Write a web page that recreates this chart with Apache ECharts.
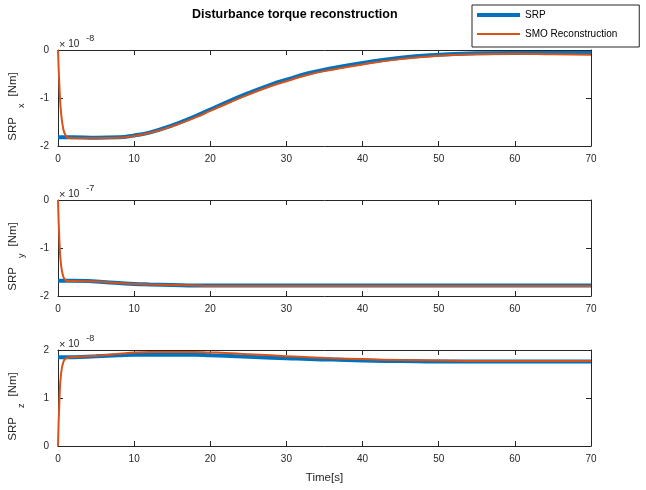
<!DOCTYPE html>
<html>
<head>
<meta charset="utf-8">
<script src="https://cdn.jsdelivr.net/npm/echarts@6/dist/echarts.min.js"></script>
<style>
  html, body { margin: 0; padding: 0; background: #fff; }
  #main { width: 646px; height: 490px; }
</style>
</head>
<body>
<div id="main"></div>
<script>
// time samples (s)
var tSrp = [0, 2, 5, 8, 10, 12, 15, 18, 20, 22, 25, 28, 30, 33, 36, 40, 45, 50, 55, 60, 65, 70];
var tSmo = [0, 0.2, 0.4, 0.7, 1, 1.3, 2, 5, 8, 10, 12, 15, 18, 20, 22, 25, 28, 30, 33, 36, 40, 45, 50, 55, 60, 65, 70];

// SRP x  (x 1e-8)
var srpX = [-1.82, -1.82, -1.83, -1.82, -1.78, -1.72, -1.57, -1.38, -1.24, -1.1, -0.9, -0.72, -0.62, -0.48, -0.38, -0.27, -0.16, -0.1, -0.07, -0.06, -0.06, -0.06];
var smoX = [0, -0.8, -1.3, -1.65, -1.78, -1.83, -1.84, -1.84, -1.83, -1.79, -1.73, -1.59, -1.41, -1.27, -1.13, -0.93, -0.75, -0.65, -0.51, -0.41, -0.3, -0.19, -0.12, -0.09, -0.08, -0.09, -0.1];
// SRP y  (x 1e-7)
var srpY = [-1.68, -1.68, -1.7, -1.73, -1.75, -1.76, -1.77, -1.78, -1.78, -1.78, -1.78, -1.78, -1.78, -1.78, -1.78, -1.78, -1.78, -1.78, -1.78, -1.78, -1.78, -1.78];
var smoY = [0, -0.9, -1.35, -1.6, -1.67, -1.69, -1.69, -1.7, -1.73, -1.75, -1.76, -1.77, -1.78, -1.79, -1.79, -1.79, -1.79, -1.79, -1.79, -1.79, -1.79, -1.79, -1.79, -1.79, -1.79, -1.79, -1.79];
// SRP z  (x 1e-8)
var srpZ = [1.85, 1.85, 1.87, 1.89, 1.9, 1.9, 1.9, 1.9, 1.89, 1.88, 1.86, 1.84, 1.83, 1.81, 1.8, 1.78, 1.77, 1.76, 1.76, 1.76, 1.76, 1.76];
var smoZ = [0, 1.0, 1.5, 1.75, 1.82, 1.84, 1.85, 1.88, 1.92, 1.95, 1.96, 1.96, 1.96, 1.95, 1.94, 1.91, 1.89, 1.87, 1.85, 1.83, 1.81, 1.79, 1.78, 1.77, 1.77, 1.77, 1.77];

var components = ['x', 'y', 'z'];
var exponents = ['-8', '-7', '-8'];
var yMins = [-2, -2, 0];
var yMaxs = [0, 0, 2];

var srpSets = [srpX, srpY, srpZ];
var smoSets = [smoX, smoY, smoZ];

var FONT = 'Liberation Sans';
var TXT = '#262626';
var tops = [50, 200, 350];

function pairs(t, v) {
  return t.map(function (x, i) { return [x, v[i]]; });
}

var grid = [], xAxis = [], yAxis = [], series = [], graphic = [];

tops.forEach(function (top, g) {
  grid.push({ left: 58, right: 55, top: top, height: 96, outerBoundsMode: 'none' });

  var xBase = {
    gridIndex: g, type: 'value', min: 0, max: 70, interval: 10,
    axisLine: { show: true, onZero: false, lineStyle: { color: TXT, width: 1 } },
    axisTick: { show: true, inside: true, length: 5, lineStyle: { color: TXT } },
    splitLine: { show: false }
  };
  xAxis.push(Object.assign({}, xBase, {
    position: 'bottom',
    axisLabel: { color: TXT, fontFamily: FONT, fontSize: 10, margin: 8 },
    name: g === 2 ? 'Time[s]' : '',
    nameLocation: 'middle', nameGap: 26,
    nameTextStyle: { color: TXT, fontFamily: FONT, fontSize: 11.5 }
  }));
  xAxis.push(Object.assign({}, xBase, { position: 'top', axisLabel: { show: false } }));

  var yBase = {
    gridIndex: g, type: 'value', min: yMins[g], max: yMaxs[g], interval: 1,
    axisLine: { show: true, onZero: false, lineStyle: { color: TXT, width: 1 } },
    axisTick: { show: true, inside: true, length: 5, lineStyle: { color: TXT } },
    splitLine: { show: false }
  };
  yAxis.push(Object.assign({}, yBase, {
    position: 'left',
    axisLabel: { color: TXT, fontFamily: FONT, fontSize: 10, margin: 9 },
    name: '{a|SRP}{s|' + components[g] + '}{b|[Nm]}',
    nameLocation: 'middle', nameRotate: 90, nameGap: 32,
    nameTextStyle: {
      color: TXT, fontFamily: FONT,
      rich: {
        a: { fontSize: 11.5, color: TXT, fontFamily: FONT },
        s: { fontSize: 9, color: TXT, fontFamily: FONT, padding: [18, 7, 0, 9] },
        b: { fontSize: 11.5, color: TXT, fontFamily: FONT, padding: [0, 17, 0, 0] }
      }
    }
  }));
  yAxis.push(Object.assign({}, yBase, { position: 'right', axisLabel: { show: false } }));

  series.push({
    name: 'SRP', type: 'line', xAxisIndex: g * 2, yAxisIndex: g * 2,
    data: pairs(tSrp, srpSets[g]), symbol: 'none', smooth: 0.5,
    lineStyle: { color: '#0072BD', width: 4 }, itemStyle: { color: '#0072BD' }
  });
  series.push({
    name: 'SMO Reconstruction', type: 'line', xAxisIndex: g * 2, yAxisIndex: g * 2,
    data: pairs(tSmo, smoSets[g]), symbol: 'none', smooth: 0.5,
    lineStyle: { color: '#D95319', width: 2 }, itemStyle: { color: '#D95319' }
  });

  graphic.push({
    type: 'text', left: 59, top: top - 16,
    style: {
      text: '{m|×}{n| 10}{e|' + exponents[g] + '}',
      rich: {
        m: { fontSize: 11, fill: TXT, fontFamily: FONT },
        n: { fontSize: 10, fill: TXT, fontFamily: FONT },
        e: { fontSize: 9, fill: TXT, fontFamily: FONT, padding: [0, 0, 12, 7] }
      }
    }
  });
});

var myChart = echarts.init(document.getElementById('main'));
myChart.setOption({
  animation: false,
  title: {
    text: 'Disturbance torque reconstruction',
    left: 187, top: 3,
    textStyle: { fontFamily: FONT, fontSize: 12.5, fontWeight: 'bold', color: '#000' }
  },
  legend: {
    data: [
      { name: 'SRP', icon: 'path://M0,0M43,12M0,4h43v4h-43z' },
      { name: 'SMO Reconstruction', icon: 'path://M0,0M43,12M0,5h43v2h-43z' }
    ],
    orient: 'vertical', left: 472, top: 5,
    padding: [4, 22, 7, 5], itemGap: 7, itemWidth: 43, itemHeight: 12,
    borderColor: TXT, borderWidth: 1, backgroundColor: '#fff',
    textStyle: { fontFamily: FONT, fontSize: 10, color: '#000' }
  },
  grid: grid,
  xAxis: xAxis,
  yAxis: yAxis,
  series: series,
  graphic: graphic
});
</script>
</body>
</html>
